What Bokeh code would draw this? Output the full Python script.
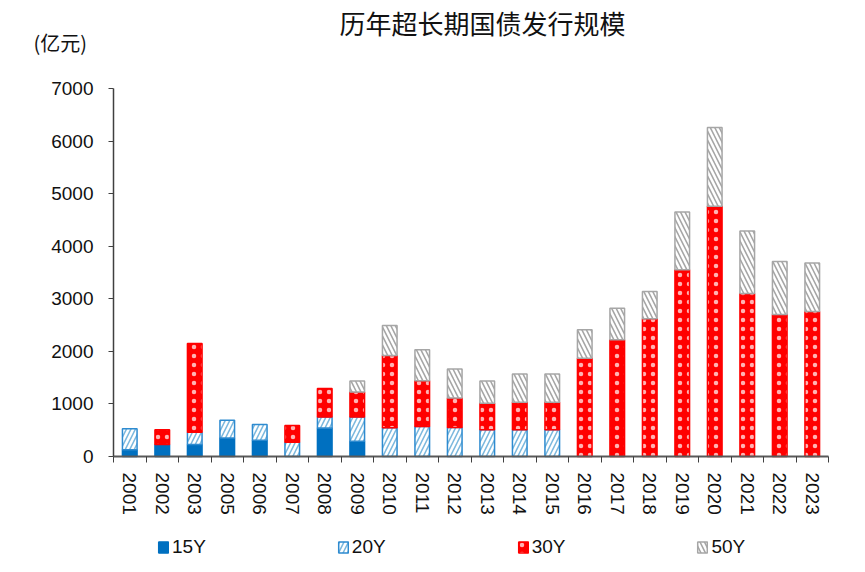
from bokeh.plotting import figure
from bokeh.models import Range1d, FixedTicker, Legend, LegendItem, Label, ColumnDataSource
from bokeh.embed import file_html
from bokeh.resources import INLINE
import numpy as np

years = ["2001", "2002", "2003", "2005", "2006", "2007", "2008", "2009", "2010", "2011",
         "2012", "2013", "2014", "2015", "2016", "2017", "2018", "2019", "2020", "2021",
         "2022", "2023"]
y15 = [130, 230, 230, 350, 310, 0, 540, 290, 0, 0, 0, 0, 0, 0, 0, 0, 0, 0, 0, 0, 0, 0]
y20 = [400, 0, 230, 340, 300, 270, 210, 460, 545, 570, 550, 510, 510, 510, 0, 0, 0, 0, 0, 0, 0, 0]
y30 = [0, 280, 1690, 0, 0, 320, 545, 475, 1375, 870, 565, 505, 520, 520, 1870, 2220, 2620,
       3550, 4760, 3100, 2700, 2760]
y50 = [0, 0, 0, 0, 0, 0, 0, 210, 570, 590, 550, 420, 540, 540, 540, 600, 520, 1100, 1500,
       1190, 1010, 920]
series_names = ["15Y", "20Y", "30Y", "50Y"]
y_ticks = [0, 1000, 2000, 3000, 4000, 5000, 6000, 7000]
title_text = "历年超长期国债发行规模"
unit_text = "(亿元)"

n = len(years)
xs = np.arange(n) + 0.5

# layout (pixels): the whole canvas is the plot frame; axes are pinned at 0
W, H = 849, 556
px_left, px_right = 113, 828       # x pixel of first / last category boundary
px_zero, px_top = 456, 88          # y pixel of value 0 / 7000
ymax = 7000
cat_px = (px_right - px_left) / n
val_px = (px_zero - px_top) / ymax
x0 = -px_left / cat_px
x1 = (W - px_left) / cat_px
y0 = -(H - px_zero) / val_px
y1 = ymax + px_top / val_px

p = figure(width=W, height=H, output_backend="svg", toolbar_location=None,
           x_range=Range1d(x0, x1), y_range=Range1d(y0, y1),
           min_border_left=0, min_border_right=0, min_border_top=0, min_border_bottom=0)
p.outline_line_color = None
p.xgrid.visible = False
p.ygrid.visible = False
p.background_fill_color = "white"

styles = [
    dict(fill_color="#0070C0", line_color="#0070C0"),
    dict(fill_color="white", line_color="#2E8BD0", hatch_pattern="/", hatch_color="#7DB9DE",
         hatch_weight=1.6, hatch_scale=9),
    dict(fill_color="#FF0000", line_color="#FF0000", hatch_pattern=".", hatch_color="white",
         hatch_alpha=0.7, hatch_weight=1, hatch_scale=9),
    dict(fill_color="white", line_color="#A6A6A6", hatch_pattern="\\", hatch_color="#A6A6A6",
         hatch_weight=1.6, hatch_scale=9),
]

vals = [np.array(y15, float), np.array(y20, float), np.array(y30, float), np.array(y50, float)]
bottom = np.zeros(n)
renderers = []
for name, v, st in zip(series_names, vals, styles):
    mask = v > 0
    src = ColumnDataSource(dict(x=xs[mask], bottom=bottom[mask], top=(bottom + v)[mask]))
    r = p.vbar(x="x", bottom="bottom", top="top", width=0.45, line_width=1.5, source=src, **st)
    renderers.append(r)
    bottom = bottom + v

# x axis pinned at value 0
xa = p.xaxis[0]
xa.fixed_location = 0
xa.bounds = (0, n)
xa.ticker = FixedTicker(ticks=list(xs), minor_ticks=list(range(n + 1)))
xa.major_label_overrides = {float(x): y for x, y in zip(xs, years)}
xa.major_tick_out = 0
xa.major_tick_in = 0
xa.minor_tick_out = 6
xa.minor_tick_in = 0
xa.minor_tick_line_color = "#404040"
xa.axis_line_color = "#595959"
xa.axis_line_width = 2
xa.major_label_orientation = "vertical"
xa.major_label_standoff = 10
xa.major_label_text_font = "Liberation Sans"
xa.major_label_text_font_size = "19px"
xa.major_label_text_color = "#111111"

# y axis pinned at the first category boundary
ya = p.yaxis[0]
ya.fixed_location = 0
ya.bounds = (0, ymax)
ya.ticker = FixedTicker(ticks=y_ticks)
ya.major_tick_out = 5
ya.major_tick_in = 0
ya.minor_tick_out = 0
ya.minor_tick_in = 0
ya.axis_line_color = "#404040"
ya.axis_line_width = 1.5
ya.major_tick_line_color = "#404040"
ya.major_label_standoff = 15
ya.major_label_text_font = "Liberation Sans"
ya.major_label_text_font_size = "19px"
ya.major_label_text_color = "#111111"

# title and unit (screen units from the frame's bottom-left)
p.add_layout(Label(x=482, y=H - 22, x_units="screen", y_units="screen", text=title_text,
                   text_font="Noto Sans CJK SC", text_font_size="26px", text_align="center",
                   text_baseline="middle", text_color="#111111"))
p.add_layout(Label(x=33, y=H - 42, x_units="screen", y_units="screen", text=unit_text,
                   text_font="Noto Sans CJK SC", text_font_size="20px", text_align="left",
                   text_baseline="middle", text_color="#111111"))

# legend
items = [LegendItem(label=name, renderers=[r]) for name, r in zip(series_names, renderers)]
lg = Legend(items=items, orientation="horizontal", location=(157, -2),
            glyph_width=12, glyph_height=14, label_text_font="Liberation Sans",
            label_text_font_size="19px", label_text_color="#111111", padding=0, margin=0,
            spacing=131, border_line_color=None, background_fill_alpha=0, label_standoff=3,
            label_height=20)
p.add_layout(lg, "center")

open("out.html", "w").write(file_html(p, INLINE))
